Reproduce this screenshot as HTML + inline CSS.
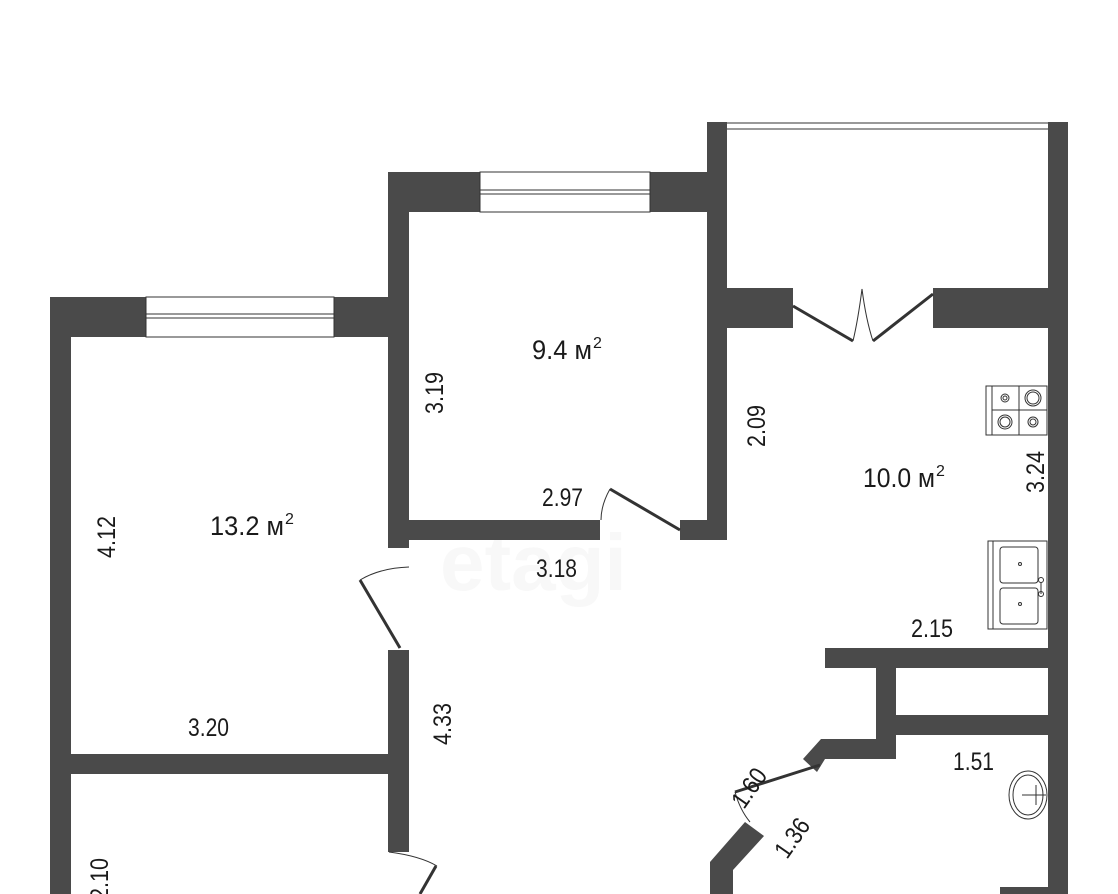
<!DOCTYPE html>
<html><head><meta charset="utf-8"><style>
html,body{margin:0;padding:0;background:#fff;}
svg{display:block}
text{font-family:"Liberation Sans Narrow","Liberation Sans",sans-serif;fill:#1a1a1a}
</style></head><body>
<svg width="1118" height="894" viewBox="0 0 1118 894" xmlns="http://www.w3.org/2000/svg">
<rect width="1118" height="894" fill="#fff"/>
<text x="440" y="590" font-size="80" font-family="Liberation Sans" font-weight="bold" style="fill:#f8f8f8">etagi</text>
<g fill="#4a4a4a">
<rect x="50" y="297" width="21" height="597"/>
<rect x="50" y="297" width="96" height="40"/>
<rect x="334" y="297" width="75" height="40"/>
<rect x="388" y="172" width="21" height="376"/>
<rect x="388" y="650" width="21" height="202"/>
<rect x="50" y="754" width="359" height="20"/>
<rect x="388" y="172" width="92" height="40"/>
<rect x="650" y="172" width="77" height="40"/>
<rect x="707" y="122" width="20" height="418"/>
<rect x="409" y="520" width="191" height="20"/>
<rect x="680" y="520" width="47" height="20"/>
<rect x="1048" y="122" width="20" height="772"/>
<rect x="727" y="288" width="66" height="40"/>
<rect x="933" y="288" width="115" height="40"/>
<rect x="825" y="648" width="223" height="20"/>
<rect x="876" y="648" width="20" height="111"/>
<rect x="896" y="715" width="152" height="20"/>
<rect x="830" y="739" width="66" height="20"/>
<polygon points="803,759 821,739 832,739 832,759 825,759 817,772"/>
<polygon points="745,822 764,836 733,870 733,894 710,894 710,862"/>
<rect x="1000" y="887" width="68" height="7"/>
</g>
<g fill="#fff" stroke="#333" stroke-width="1">
<rect x="146" y="297" width="188" height="40"/>
<line x1="146" y1="314" x2="334" y2="314"/><line x1="146" y1="318" x2="334" y2="318"/>
<rect x="480" y="172" width="170" height="40"/>
<line x1="480" y1="190" x2="650" y2="190"/><line x1="480" y1="194" x2="650" y2="194"/>
<line x1="727" y1="123" x2="1048" y2="123"/><line x1="727" y1="129" x2="1048" y2="129"/>
</g>
<g fill="none" stroke="#333" stroke-width="3">
<line x1="793" y1="306" x2="853" y2="341"/>
<line x1="933" y1="294" x2="873" y2="341"/>
<line x1="610" y1="489" x2="680" y2="530"/>
<line x1="360" y1="580" x2="400" y2="648"/>
<line x1="820" y1="765" x2="735" y2="792"/>
<line x1="436" y1="866" x2="420" y2="894"/>
</g>
<g fill="none" stroke="#333" stroke-width="1">
<path d="M862,289 Q858,320 853,341"/><path d="M862,289 Q866,320 873,341"/>
<path d="M610,489 Q601,505 601,520"/>
<path d="M360,580 Q380,568 409,567"/>
<path d="M389,852 Q420,856 437,866"/>
<path d="M735,792 Q740,810 750,822"/>
</g>
<g fill="none" stroke="#333" stroke-width="1">
<rect x="986" y="386" width="61" height="49"/>
<line x1="992" y1="386" x2="992" y2="435"/>
<line x1="1019" y1="386" x2="1019" y2="435"/>
<line x1="992" y1="410" x2="1047" y2="410"/>
<circle cx="1005" cy="398" r="4"/><circle cx="1005" cy="398" r="2"/>
<circle cx="1033" cy="398" r="8"/><circle cx="1033" cy="398" r="6"/>
<circle cx="1005" cy="422" r="7"/><circle cx="1005" cy="422" r="5"/>
<circle cx="1033" cy="422" r="5"/><circle cx="1033" cy="422" r="3"/>
<rect x="988" y="541" width="59" height="88"/>
<line x1="993" y1="541" x2="993" y2="629"/>
<rect x="1000" y="547" width="38" height="36" rx="3"/>
<rect x="1000" y="588" width="38" height="36" rx="3"/>
<circle cx="1020" cy="564" r="1.5"/><circle cx="1020" cy="604" r="1.5"/>
<line x1="1041" y1="582" x2="1041" y2="594"/><circle cx="1041" cy="580" r="2.5"/><circle cx="1041" cy="594" r="2.5"/>
<ellipse cx="1028" cy="795" rx="19" ry="24"/>
<ellipse cx="1028" cy="795" rx="15" ry="20"/>
<line x1="1022" y1="795" x2="1046" y2="795"/><line x1="1036" y1="785" x2="1036" y2="805"/>
</g>
<g font-size="27">
<text x="532" y="359" textLength="60" lengthAdjust="spacingAndGlyphs">9.4 м</text><text x="593" y="348" font-size="16">2</text>
<text x="210" y="535" textLength="74" lengthAdjust="spacingAndGlyphs">13.2 м</text><text x="285" y="524" font-size="16">2</text>
<text x="863" y="487" textLength="72" lengthAdjust="spacingAndGlyphs">10.0 м</text><text x="936" y="476" font-size="16">2</text>
</g>
<g font-size="25">
<text x="542" y="506" textLength="41" lengthAdjust="spacingAndGlyphs">2.97</text>
<text x="536" y="577" textLength="41" lengthAdjust="spacingAndGlyphs">3.18</text>
<text x="188" y="736" textLength="41" lengthAdjust="spacingAndGlyphs">3.20</text>
<text x="911" y="637" textLength="42" lengthAdjust="spacingAndGlyphs">2.15</text>
<text x="953" y="770" textLength="41" lengthAdjust="spacingAndGlyphs">1.51</text>
<text transform="translate(443,414) rotate(-90)" textLength="42" lengthAdjust="spacingAndGlyphs">3.19</text>
<text transform="translate(115,558) rotate(-90)" textLength="42" lengthAdjust="spacingAndGlyphs">4.12</text>
<text transform="translate(765,447) rotate(-90)" textLength="42" lengthAdjust="spacingAndGlyphs">2.09</text>
<text transform="translate(1044,493) rotate(-90)" textLength="42" lengthAdjust="spacingAndGlyphs">3.24</text>
<text transform="translate(451,745) rotate(-90)" textLength="42" lengthAdjust="spacingAndGlyphs">4.33</text>
<text transform="translate(108,900) rotate(-90)" textLength="42" lengthAdjust="spacingAndGlyphs">2.10</text>
<text transform="translate(744,810) rotate(-55)" textLength="42" lengthAdjust="spacingAndGlyphs">1.60</text>
<text transform="translate(787,860) rotate(-55)" textLength="42" lengthAdjust="spacingAndGlyphs">1.36</text>
</g>
</svg>
</body></html>
